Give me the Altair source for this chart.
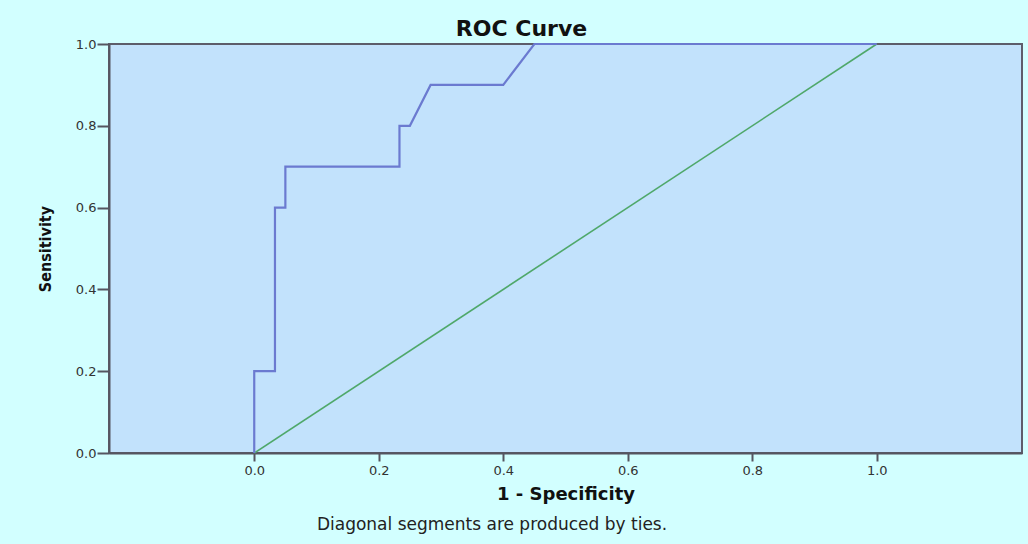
import altair as alt
import pandas as pd

# ROC curve vertices (1 - specificity, sensitivity), in drawing order
fpr = [0.0, 0.0, 0.0333, 0.0333, 0.05, 0.05, 0.2333, 0.2333, 0.25, 0.2833, 0.4, 0.45, 1.0]
tpr = [0.0, 0.2, 0.2, 0.6, 0.6, 0.7, 0.7, 0.8, 0.8, 0.9, 0.9, 1.0, 1.0]

# reference diagonal
diag_x = [0.0, 1.0]
diag_y = [0.0, 1.0]

tick_values = [0.0, 0.2, 0.4, 0.6, 0.8, 1.0]
x_domain = [-0.2333, 1.2333]

curve = pd.DataFrame({"fpr": fpr, "tpr": tpr, "step": list(range(len(fpr)))})
diag = pd.DataFrame({"fpr": diag_x, "tpr": diag_y, "step": [0, 1]})

x_enc = alt.X(
    "fpr:Q",
    scale=alt.Scale(domain=x_domain, nice=False, zero=False),
    axis=alt.Axis(
        values=tick_values, format=".1f", title="1 - Specificity",
        titleFont="DejaVu Sans", titleFontSize=18, titleFontWeight="bold",
        titleColor="#111111", titleBaseline="alphabetic", titleY=46,
        labelFont="DejaVu Sans", labelFontSize=13, labelColor="#333333",
        labelPadding=3, tickSize=8, tickWidth=2, tickColor="#555560",
        domainColor="#555560", domainWidth=2, grid=False,
    ),
)
y_enc = alt.Y(
    "tpr:Q",
    scale=alt.Scale(domain=[0, 1], nice=False),
    axis=alt.Axis(
        values=tick_values, format=".1f", title="Sensitivity",
        titleFont="'DejaVu Sans Condensed', 'Liberation Sans', sans-serif",
        titleFontSize=16, titleFontWeight="bold",
        titleColor="#111111", titleAngle=270, titleBaseline="middle",
        titleX=-64, titleY=204.5, titleAlign="center",
        labelFont="DejaVu Sans", labelFontSize=13, labelColor="#333333",
        labelPadding=1, tickSize=12, tickWidth=2, tickColor="#555560",
        domainColor="#555560", domainWidth=2, grid=False,
    ),
)

diag_line = alt.Chart(diag).mark_line(color="#4fa86a", strokeWidth=1.6).encode(
    x=x_enc, y=y_enc, order="step:Q"
)
roc_line = alt.Chart(curve).mark_line(color="#6b7ad0", strokeWidth=2.2).encode(
    x="fpr:Q", y="tpr:Q", order="step:Q"
)
footnote = alt.Chart(pd.DataFrame({"t": ["Diagonal segments are produced by ties."]})).mark_text(
    font="DejaVu Sans", fontSize=17, color="#222222", align="center", baseline="alphabetic"
).encode(text="t:N", x=alt.value(383), y=alt.value(486))

chart = alt.layer(diag_line, roc_line, footnote).properties(
    width=913,
    height=409,
    padding={"left": 109, "top": 44, "right": 6, "bottom": 91},
    autosize=alt.AutoSizeParams(type="none"),
    background="#d2ffff",
    title=alt.TitleParams(
        "ROC Curve", font="DejaVu Sans", fontSize=22, fontWeight="bold",
        color="#111111", anchor="middle", offset=7, dx=-44, dy=10,
    ),
).configure_view(
    fill="#c2e2fc", stroke="#5d5d6a", strokeWidth=2
)

chart.save("out.html", embed_options={"renderer": "svg", "actions": False})
